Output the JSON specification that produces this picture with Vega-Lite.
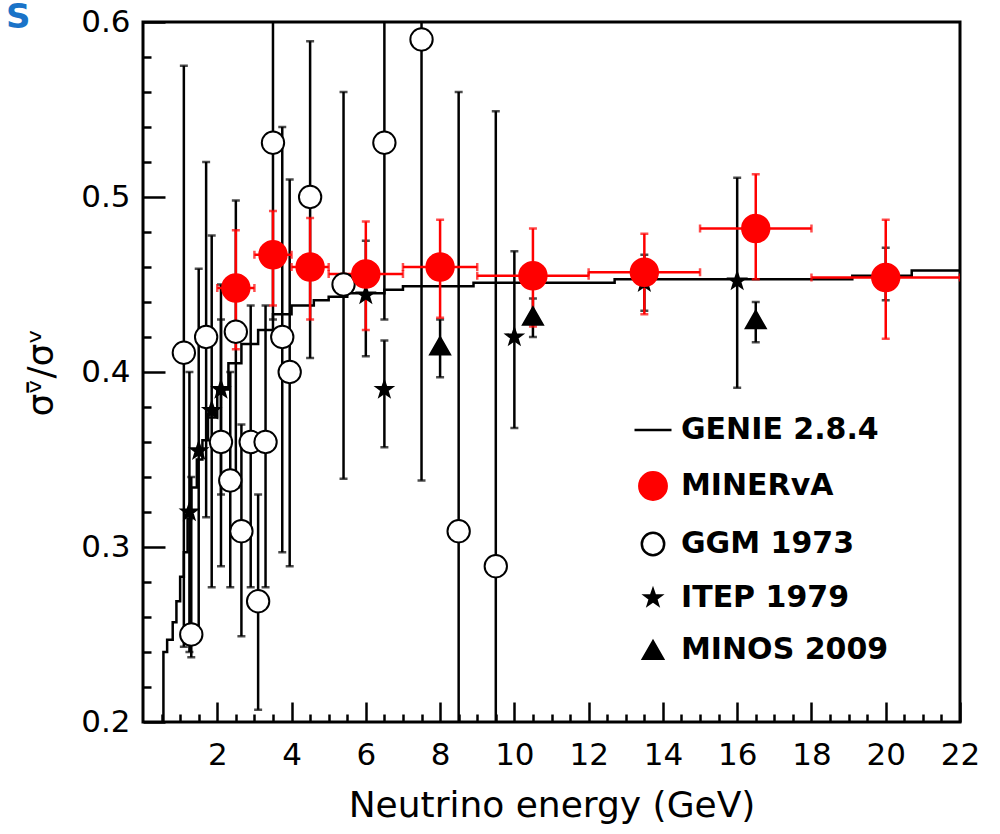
{
  "$schema": "https://vega.github.io/schema/vega-lite/v6.json",
  "autosize": "none",
  "width": 817,
  "height": 700,
  "padding": {"left": 143, "top": 22, "right": 40, "bottom": 112},
  "background": "white",
  "title": {"text": "S", "anchor": "start", "frame": "group", "dx": -137, "dy": 24, "offset": -5, "fontSize": 34, "fontWeight": "bold", "font": "DejaVu Sans", "color": "#1a73c8"},
  "config": {
    "view": {"stroke": "black", "strokeWidth": 3},
    "font": "DejaVu Sans"
  },
  "resolve": {"axis": {"x": "independent", "y": "independent"}},
  "datasets": {
    "pts": [
      {"series": "GGM 1973", "e": 1.1, "v": 0.411, "lo": 0.243, "hi": 0.575},
      {"series": "GGM 1973", "e": 1.3, "v": 0.25, "lo": 0.237, "hi": 0.34},
      {"series": "GGM 1973", "e": 1.7, "v": 0.42, "lo": 0.317, "hi": 0.52},
      {"series": "GGM 1973", "e": 2.1, "v": 0.36, "lo": 0.289, "hi": 0.43},
      {"series": "GGM 1973", "e": 2.35, "v": 0.338, "lo": 0.277, "hi": 0.4},
      {"series": "GGM 1973", "e": 2.5, "v": 0.423, "lo": 0.334, "hi": 0.498},
      {"series": "GGM 1973", "e": 2.65, "v": 0.309, "lo": 0.249, "hi": 0.37},
      {"series": "GGM 1973", "e": 2.9, "v": 0.36, "lo": 0.277, "hi": 0.438},
      {"series": "GGM 1973", "e": 3.1, "v": 0.269, "lo": 0.207, "hi": 0.33},
      {"series": "GGM 1973", "e": 3.3, "v": 0.36, "lo": 0.277, "hi": 0.438},
      {"series": "GGM 1973", "e": 3.5, "v": 0.531, "lo": 0.43, "hi": 0.64},
      {"series": "GGM 1973", "e": 3.75, "v": 0.42, "lo": 0.297, "hi": 0.54},
      {"series": "GGM 1973", "e": 3.95, "v": 0.4, "lo": 0.289, "hi": 0.51},
      {"series": "GGM 1973", "e": 4.5, "v": 0.5, "lo": 0.408, "hi": 0.589},
      {"series": "GGM 1973", "e": 5.4, "v": 0.45, "lo": 0.339, "hi": 0.56},
      {"series": "GGM 1973", "e": 6.5, "v": 0.531, "lo": 0.43, "hi": 0.64},
      {"series": "GGM 1973", "e": 7.5, "v": 0.59, "lo": 0.338, "hi": 0.84},
      {"series": "GGM 1973", "e": 8.5, "v": 0.309, "lo": 0.06, "hi": 0.56},
      {"series": "GGM 1973", "e": 9.5, "v": 0.289, "lo": 0.03, "hi": 0.549},
      {"series": "ITEP 1979", "e": 1.25, "v": 0.32, "lo": 0.24, "hi": 0.4},
      {"series": "ITEP 1979", "e": 1.5, "v": 0.355, "lo": 0.25, "hi": 0.459},
      {"series": "ITEP 1979", "e": 1.85, "v": 0.378, "lo": 0.277, "hi": 0.478},
      {"series": "ITEP 1979", "e": 2.1, "v": 0.39, "lo": 0.33, "hi": 0.45},
      {"series": "ITEP 1979", "e": 6.0, "v": 0.444, "lo": 0.409, "hi": 0.475},
      {"series": "ITEP 1979", "e": 6.5, "v": 0.39, "lo": 0.357, "hi": 0.418},
      {"series": "ITEP 1979", "e": 10.0, "v": 0.42, "lo": 0.368, "hi": 0.469},
      {"series": "ITEP 1979", "e": 13.5, "v": 0.451, "lo": 0.435, "hi": 0.467},
      {"series": "ITEP 1979", "e": 16.0, "v": 0.452, "lo": 0.391, "hi": 0.511},
      {"series": "ITEP 1979", "e": 20.0, "v": 0.456, "lo": 0.441, "hi": 0.471},
      {"series": "MINOS 2009", "e": 8.0, "v": 0.415, "lo": 0.397, "hi": 0.43},
      {"series": "MINOS 2009", "e": 10.5, "v": 0.432, "lo": 0.42, "hi": 0.442},
      {"series": "MINOS 2009", "e": 16.5, "v": 0.43, "lo": 0.417, "hi": 0.44},
      {"series": "MINERvA", "e": 2.5, "v": 0.448, "lo": 0.413, "hi": 0.481, "elo": 2, "ehi": 3},
      {"series": "MINERvA", "e": 3.5, "v": 0.467, "lo": 0.438, "hi": 0.492, "elo": 3, "ehi": 4},
      {"series": "MINERvA", "e": 4.5, "v": 0.46, "lo": 0.43, "hi": 0.488, "elo": 4, "ehi": 5},
      {"series": "MINERvA", "e": 6.0, "v": 0.456, "lo": 0.424, "hi": 0.486, "elo": 5, "ehi": 7},
      {"series": "MINERvA", "e": 8.0, "v": 0.46, "lo": 0.431, "hi": 0.487, "elo": 7, "ehi": 9},
      {"series": "MINERvA", "e": 10.5, "v": 0.455, "lo": 0.426, "hi": 0.482, "elo": 9, "ehi": 12},
      {"series": "MINERvA", "e": 13.5, "v": 0.457, "lo": 0.433, "hi": 0.479, "elo": 12, "ehi": 15},
      {"series": "MINERvA", "e": 16.5, "v": 0.482, "lo": 0.453, "hi": 0.513, "elo": 15, "ehi": 18},
      {"series": "MINERvA", "e": 20.0, "v": 0.454, "lo": 0.419, "hi": 0.487, "elo": 18, "ehi": 22}
    ],
    "genie": [
      {"e": 0.55, "v": 0.195}, {"e": 0.55, "v": 0.24}, {"e": 0.65, "v": 0.247}, {"e": 0.8, "v": 0.257},
      {"e": 0.9, "v": 0.269}, {"e": 1.0, "v": 0.283}, {"e": 1.1, "v": 0.297}, {"e": 1.2, "v": 0.316},
      {"e": 1.3, "v": 0.334}, {"e": 1.45, "v": 0.35}, {"e": 1.6, "v": 0.361}, {"e": 1.75, "v": 0.374},
      {"e": 2.0, "v": 0.39}, {"e": 2.3, "v": 0.405}, {"e": 2.65, "v": 0.416}, {"e": 3.1, "v": 0.424},
      {"e": 3.5, "v": 0.433}, {"e": 4.0, "v": 0.438}, {"e": 4.6, "v": 0.441}, {"e": 5.0, "v": 0.443},
      {"e": 5.5, "v": 0.445}, {"e": 6.5, "v": 0.447}, {"e": 7.0, "v": 0.449}, {"e": 8.9, "v": 0.451},
      {"e": 12.7, "v": 0.453}, {"e": 19.1, "v": 0.455}, {"e": 20.7, "v": 0.458}, {"e": 22, "v": 0.458}
    ]
  },
  "layer": [
    {
      "data": {"name": "pts"},
      "transform": [{"filter": "datum.series != 'MINERvA'"}],
      "mark": {"type": "rule", "color": "black", "strokeWidth": 2.5, "clip": true},
      "encoding": {
        "x": {"field": "e", "type": "quantitative", "scale": {"domain": [0, 22], "nice": false, "zero": false},
          "axis": {"orient": "bottom", "title": "Neutrino energy (GeV)", "titleFont": "DejaVu Sans", "titleFontSize": 36, "titleFontWeight": "normal", "titleColor": "black", "titlePadding": 18,
            "values": [2, 4, 6, 8, 10, 12, 14, 16, 18, 20, 22],
            "tickSize": -20, "tickWidth": 2.5, "tickColor": "black", "domain": false, "grid": false,
            "labelFont": "DejaVu Sans", "labelFontSize": 31, "labelColor": "black", "labelPadding": 38, "labelFlush": false, "labelOverlap": false}},
        "y": {"field": "lo", "type": "quantitative", "scale": {"domain": [0.2, 0.6], "nice": false, "zero": false},
          "axis": {"orient": "left", "title": "σᵛ̄/σᵛ", "titleFont": "DejaVu Sans", "titleFontSize": 36, "titleFontWeight": "normal", "titleColor": "black", "titlePadding": 20,
            "values": [0.2, 0.3, 0.4, 0.5, 0.6], "format": ".1f",
            "tickSize": -22, "tickWidth": 2.5, "tickColor": "black", "domain": false, "grid": false,
            "labelFont": "DejaVu Sans", "labelFontSize": 31, "labelColor": "black", "labelPadding": 35, "labelFlush": false, "labelOverlap": false}},
        "y2": {"field": "hi"}
      }
    },
    {
      "data": {"name": "pts"},
      "transform": [{"filter": "datum.series != 'MINERvA'"}],
      "mark": {"type": "tick", "orient": "horizontal", "color": "black", "size": 8, "thickness": 2.5, "clip": true},
      "encoding": {
        "x": {"field": "e", "type": "quantitative",
          "axis": {"orient": "bottom", "title": null, "labels": false, "domain": false, "grid": false,
            "values": [0.5,1,1.5,2.5,3,3.5,4.5,5,5.5,6.5,7,7.5,8.5,9,9.5,10.5,11,11.5,12.5,13,13.5,14.5,15,15.5,16.5,17,17.5,18.5,19,19.5,20.5,21,21.5],
            "tickSize": -8, "tickWidth": 2.5, "tickColor": "black"}},
        "y": {"field": "lo", "type": "quantitative",
          "axis": {"orient": "left", "title": null, "labels": false, "domain": false, "grid": false,
            "values": [0.22,0.24,0.26,0.28,0.32,0.34,0.36,0.38,0.42,0.44,0.46,0.48,0.52,0.54,0.56,0.58],
            "tickSize": -8, "tickWidth": 2.5, "tickColor": "black"}}
      }
    },
    {
      "data": {"name": "pts"},
      "transform": [{"filter": "datum.series != 'MINERvA'"}],
      "mark": {"type": "tick", "orient": "horizontal", "color": "black", "size": 8, "thickness": 2.5, "clip": true},
      "encoding": {
        "x": {"field": "e", "type": "quantitative", "axis": null},
        "y": {"field": "hi", "type": "quantitative", "axis": null}
      }
    },
    {
      "data": {"name": "genie"},
      "mark": {"type": "line", "color": "black", "strokeWidth": 2.5, "interpolate": "step-after", "clip": true},
      "encoding": {
        "x": {"field": "e", "type": "quantitative", "axis": null},
        "y": {"field": "v", "type": "quantitative", "axis": null}
      }
    },
    {
      "data": {"name": "pts"},
      "transform": [{"filter": "datum.series == 'MINERvA'"}],
      "mark": {"type": "rule", "color": "#ff0000", "strokeWidth": 2.5, "clip": true},
      "encoding": {
        "x": {"field": "e", "type": "quantitative", "axis": null},
        "y": {"field": "lo", "type": "quantitative", "axis": null},
        "y2": {"field": "hi"}
      }
    },
    {
      "data": {"name": "pts"},
      "transform": [{"filter": "datum.series == 'MINERvA'"}],
      "mark": {"type": "rule", "color": "#ff0000", "strokeWidth": 2.5, "clip": true},
      "encoding": {
        "x": {"field": "elo", "type": "quantitative", "axis": null},
        "x2": {"field": "ehi"},
        "y": {"field": "v", "type": "quantitative", "axis": null}
      }
    },
    {
      "data": {"name": "pts"},
      "transform": [{"filter": "datum.series == 'MINERvA'"}],
      "mark": {"type": "tick", "orient": "horizontal", "color": "#ff0000", "size": 8, "thickness": 2.5, "clip": true},
      "encoding": {
        "x": {"field": "e", "type": "quantitative", "axis": null},
        "y": {"field": "lo", "type": "quantitative", "axis": null}
      }
    },
    {
      "data": {"name": "pts"},
      "transform": [{"filter": "datum.series == 'MINERvA'"}],
      "mark": {"type": "tick", "orient": "horizontal", "color": "#ff0000", "size": 8, "thickness": 2.5, "clip": true},
      "encoding": {
        "x": {"field": "e", "type": "quantitative", "axis": null},
        "y": {"field": "hi", "type": "quantitative", "axis": null}
      }
    },
    {
      "data": {"name": "pts"},
      "transform": [{"filter": "datum.series == 'MINERvA'"}],
      "mark": {"type": "tick", "orient": "vertical", "color": "#ff0000", "size": 8, "thickness": 2.5, "clip": true},
      "encoding": {
        "x": {"field": "elo", "type": "quantitative", "axis": null},
        "y": {"field": "v", "type": "quantitative", "axis": null}
      }
    },
    {
      "data": {"name": "pts"},
      "transform": [{"filter": "datum.series == 'MINERvA'"}],
      "mark": {"type": "tick", "orient": "vertical", "color": "#ff0000", "size": 8, "thickness": 2.5, "clip": true},
      "encoding": {
        "x": {"field": "ehi", "type": "quantitative", "axis": null},
        "y": {"field": "v", "type": "quantitative", "axis": null}
      }
    },
    {
      "data": {"name": "pts"},
      "mark": {"type": "point", "filled": true, "opacity": 1, "strokeWidth": 2},
      "encoding": {
        "x": {"field": "e", "type": "quantitative", "axis": null},
        "y": {"field": "v", "type": "quantitative", "axis": null},
        "shape": {"field": "series", "type": "nominal",
          "scale": {"domain": ["GENIE 2.8.4", "MINERvA", "GGM 1973", "ITEP 1979", "MINOS 2009"], "range": ["M-1,0H1", "circle", "circle", "M0,-1L0.235,-0.324L0.951,-0.309L0.38,0.124L0.588,0.809L0,0.4L-0.588,0.809L-0.38,0.124L-0.951,-0.309L-0.235,-0.324Z", "triangle-up"]},
          "legend": {"title": null, "orient": "none", "legendX": 490, "legendY": 388, "labelFont": "DejaVu Sans", "labelFontWeight": "bold", "labelFontSize": 30, "labelColor": "black", "labelOffset": 8, "rowPadding": 22, "symbolStrokeWidth": 2.5, "padding": 0, "labelLimit": 400}},
        "fill": {"field": "series", "type": "nominal",
          "scale": {"domain": ["GENIE 2.8.4", "MINERvA", "GGM 1973", "ITEP 1979", "MINOS 2009"], "range": ["transparent", "#ff0000", "white", "black", "black"]}},
        "stroke": {"field": "series", "type": "nominal",
          "scale": {"domain": ["GENIE 2.8.4", "MINERvA", "GGM 1973", "ITEP 1979", "MINOS 2009"], "range": ["black", "#ff0000", "black", "black", "black"]}},
        "size": {"field": "series", "type": "nominal",
          "scale": {"type": "ordinal", "domain": ["GENIE 2.8.4", "MINERvA", "GGM 1973", "ITEP 1979", "MINOS 2009"], "range": [1369, 750, 500, 280, 400]}}
      }
    }
  ]
}
